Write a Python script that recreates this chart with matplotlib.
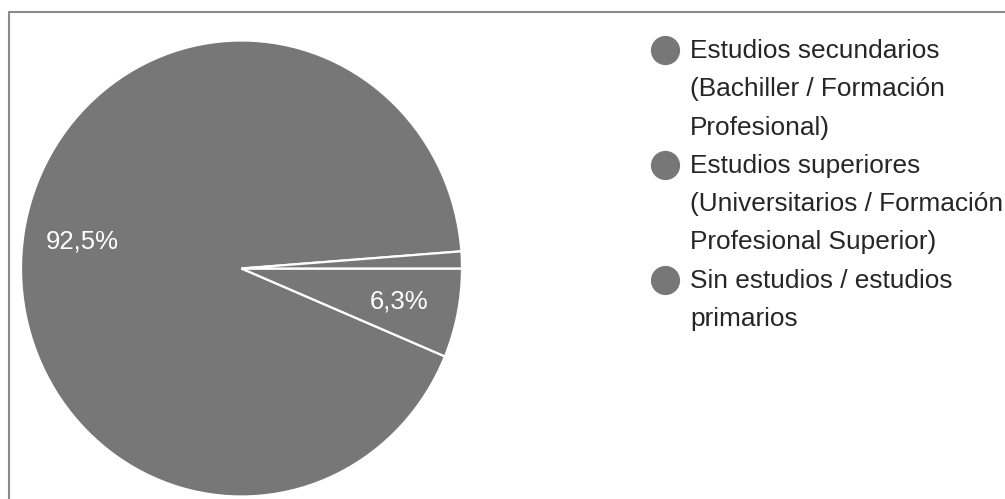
import matplotlib
matplotlib.use("Agg")
import matplotlib.pyplot as plt
from matplotlib.lines import Line2D

# Education level of respondents
categories = [
    "Estudios secundarios\n(Bachiller / Formación\nProfesional)",
    "Estudios superiores\n(Universitarios / Formación\nProfesional Superior)",
    "Sin estudios / estudios\nprimarios",
]
shares = [92.5, 6.3, 1.2]

W, H = 1005, 499
FONT = "Liberation Sans"
SLICE = "#777777"
TEXT = "#262626"

fig = plt.figure(figsize=(W / 100, H / 100), dpi=100)
fig.patch.set_facecolor("white")

# pie area (pixel box converted to figure fractions)
top, bottom, left, right = 40.5, 496.5, 21, 462
ax = fig.add_axes([left / W, 1 - bottom / H, (right - left) / W, (bottom - top) / H])


def pct_label(p):
    return (f"{p:.1f}".replace(".", ",") + "%") if p >= 5 else ""


start = 360 * shares[-1] / sum(shares)
wedges, _, autotexts = ax.pie(
    shares,
    startangle=start,
    counterclock=True,
    colors=[SLICE] * len(shares),
    wedgeprops=dict(edgecolor="white", linewidth=1.6),
    autopct=pct_label,
    pctdistance=0.73,
    textprops=dict(color="white", fontsize=18.5, family=FONT),
)
ax.set_aspect("auto")
ax.set_xlim(-1, 1)
ax.set_ylim(-1, 1)
ax.axis("off")

# legend: dot + wrapped label lines
line_pitch = 38.3
first_baseline = 58
text_x = 690
dot_x = 665
line_no = 0
for label in categories:
    lines = label.split("\n")
    dot_y = first_baseline - 8 + line_no * line_pitch
    fig.add_artist(Line2D([dot_x / W], [1 - dot_y / H], transform=fig.transFigure,
                          marker="o", markersize=20, color=SLICE, linestyle="none"))
    for ln in lines:
        y = first_baseline + line_no * line_pitch
        fig.text(text_x / W, 1 - y / H, ln, fontsize=18.9, family=FONT,
                 color=TEXT, va="baseline", ha="left")
        line_no += 1

# card border (top and left edges)
fig.add_artist(Line2D([9 / W, 9 / W, 1.0], [0.0, 1 - 12 / H, 1 - 12 / H],
                      transform=fig.transFigure, color="#8a8a8a", linewidth=1.5))

fig.savefig("out.png", dpi=100, facecolor="white")
